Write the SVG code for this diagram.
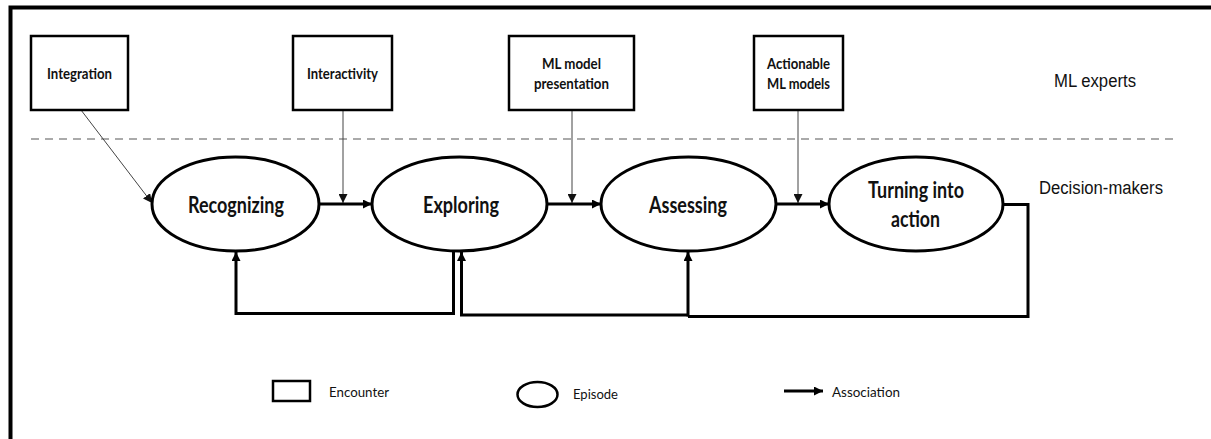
<svg xmlns="http://www.w3.org/2000/svg" width="1211" height="439" viewBox="0 0 1211 439">
<defs>
<style>
.box{fill:#fff;stroke:#000;stroke-width:2.5}
.ep{fill:#fff;stroke:#000;stroke-width:3}
.bl{font-family:Lato,"Liberation Sans",sans-serif;font-weight:bold;font-size:16px;fill:#111;text-anchor:middle}
.el{font-family:Lato,"Liberation Sans",sans-serif;font-weight:bold;font-size:22px;fill:#111;text-anchor:middle}
.lane{font-family:"Liberation Sans",Arial,sans-serif;font-size:18px;fill:#111}
.lg{font-family:Lato,"Liberation Sans",sans-serif;font-size:14px;fill:#111}
.thin{fill:none;stroke:#444;stroke-width:1}
.thick{fill:none;stroke:#000;stroke-width:3}
</style>
<marker id="ah" viewBox="0 0 10 10" refX="10" refY="5" markerWidth="9" markerHeight="9" markerUnits="userSpaceOnUse" orient="auto">
<path d="M0,0 L10,5 L0,10 z" fill="#000"/>
</marker>
<marker id="at" viewBox="0 0 10 10" refX="10" refY="5" markerWidth="9" markerHeight="9" markerUnits="userSpaceOnUse" orient="auto">
<path d="M0,0 L10,5 L0,10 z" fill="#111"/>
</marker>
</defs>
<rect width="1211" height="439" fill="#fff"/>
<path d="M10.5,439 V7.5 H1211" fill="none" stroke="#000" stroke-width="4"/>
<line x1="31" y1="139" x2="1175" y2="139" stroke="#aaa" stroke-width="2" stroke-dasharray="8,6"/>
<text class="lane" x="1054" y="87" font-size="19" textLength="82" lengthAdjust="spacingAndGlyphs">ML experts</text>
<text class="lane" x="1039" y="194" font-size="18" textLength="124" lengthAdjust="spacingAndGlyphs">Decision-makers</text>

<g id="connectors">
<line class="thin" x1="81" y1="110" x2="152" y2="203" marker-end="url(#at)"/>
<line class="thin" x1="343" y1="110" x2="343" y2="203" marker-end="url(#at)"/>
<line class="thin" x1="572" y1="110" x2="572" y2="203" marker-end="url(#at)"/>
<line class="thin" x1="798" y1="110" x2="798" y2="203" marker-end="url(#at)"/>
<line class="thick" x1="319" y1="204" x2="372" y2="204" marker-end="url(#ah)"/>
<line class="thick" x1="547" y1="204" x2="601" y2="204" marker-end="url(#ah)"/>
<line class="thick" x1="776" y1="204" x2="829" y2="204" marker-end="url(#ah)"/>
<path class="thick" d="M453.5,251 V313.5 H236 V252" marker-end="url(#ah)"/>
<path class="thick" d="M1003,204.5 H1028 V316.5 H688"/>
<path class="thick" d="M688,316.5 V252" marker-end="url(#ah)"/>
<path class="thick" d="M688,315 H461.5 V252" marker-end="url(#ah)"/>
</g>

<g id="integration"><rect class="box" x="31" y="36" width="97" height="74"/><text class="bl" x="79.5" y="79" textLength="65" lengthAdjust="spacingAndGlyphs">Integration</text></g>
<g id="interactivity"><rect class="box" x="293" y="36" width="99" height="74"/><text class="bl" x="342.5" y="79" textLength="71" lengthAdjust="spacingAndGlyphs">Interactivity</text></g>
<g id="ml-model-presentation"><rect class="box" x="509" y="36" width="125" height="74"/><text class="bl" x="571.5" y="69" textLength="59" lengthAdjust="spacingAndGlyphs">ML model</text><text class="bl" x="571.5" y="89" textLength="75" lengthAdjust="spacingAndGlyphs">presentation</text></g>
<g id="actionable-ml-models"><rect class="box" x="754" y="36" width="89" height="74"/><text class="bl" x="798.5" y="69" textLength="63" lengthAdjust="spacingAndGlyphs">Actionable</text><text class="bl" x="798.5" y="89" textLength="63" lengthAdjust="spacingAndGlyphs">ML models</text></g>

<g id="recognizing"><ellipse class="ep" cx="235.5" cy="204" rx="83.5" ry="47"/><text class="el" x="236" y="212.5" textLength="96" lengthAdjust="spacingAndGlyphs">Recognizing</text></g>
<g id="exploring"><ellipse class="ep" cx="459.5" cy="204" rx="87.5" ry="47"/><text class="el" x="461" y="212.5" textLength="76" lengthAdjust="spacingAndGlyphs">Exploring</text></g>
<g id="assessing"><ellipse class="ep" cx="688.5" cy="204" rx="87.5" ry="47"/><text class="el" x="688" y="212.5" textLength="78" lengthAdjust="spacingAndGlyphs">Assessing</text></g>
<g id="turning-into-action"><ellipse class="ep" cx="916" cy="204" rx="87" ry="47"/><text class="el" x="916" y="198" textLength="96" lengthAdjust="spacingAndGlyphs">Turning into</text><text class="el" x="915.5" y="227" textLength="49" lengthAdjust="spacingAndGlyphs">action</text></g>

<g id="legend">
<rect x="273" y="381" width="37" height="20" fill="#fff" stroke="#000" stroke-width="2.5"/>
<text class="lg" x="329" y="397" textLength="60" lengthAdjust="spacingAndGlyphs">Encounter</text>
<ellipse cx="537.5" cy="394.5" rx="20" ry="12.5" fill="#fff" stroke="#000" stroke-width="2.5"/>
<text class="lg" x="573" y="399" textLength="45" lengthAdjust="spacingAndGlyphs">Episode</text>
<line class="thick" x1="784" y1="391" x2="823" y2="391" marker-end="url(#ah)"/>
<text class="lg" x="832" y="397" textLength="68" lengthAdjust="spacingAndGlyphs">Association</text>
</g>
</svg>
